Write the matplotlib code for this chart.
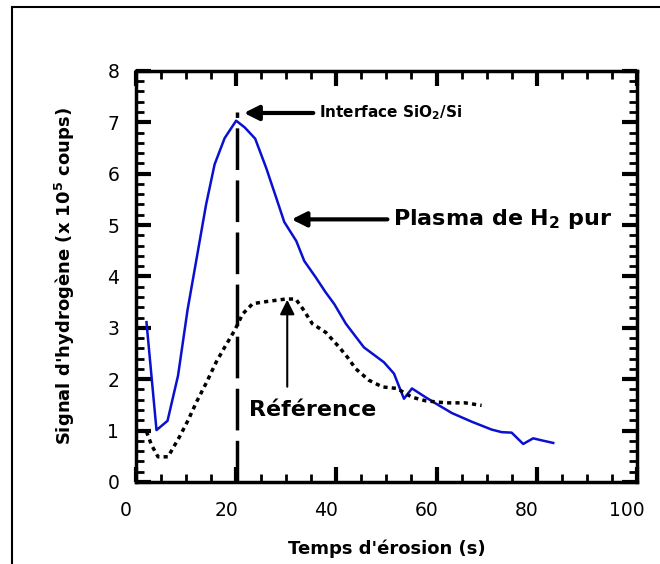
import matplotlib
matplotlib.use("Agg")
from matplotlib import pyplot as plt
from matplotlib.patches import Rectangle
from matplotlib.ticker import MultipleLocator
from matplotlib.transforms import ScaledTranslation

# Plasma de H2 pur (blue)
t_h2 = [2.1, 4.1, 6.3, 8.4, 10.3, 12.2, 14.0, 15.7, 17.7, 20.0, 21.7, 23.8, 26.0,
        28.0, 29.6, 32.0, 33.6, 35.9, 37.8, 39.6, 41.9, 45.5, 49.5, 51.5, 53.5,
        55.1, 57.8, 59.8, 63.1, 67.1, 71.0, 73.0, 75.0, 77.3, 79.3, 81.0, 83.3]
s_h2 = [3.11, 1.01, 1.19, 2.07, 3.35, 4.40, 5.40, 6.18, 6.69, 7.03, 6.90, 6.68, 6.11,
        5.53, 5.06, 4.69, 4.30, 3.98, 3.70, 3.46, 3.08, 2.62, 2.33, 2.11, 1.62,
        1.82, 1.65, 1.53, 1.34, 1.17, 1.02, 0.97, 0.96, 0.74, 0.85, 0.81, 0.76]

# Reference (black dotted)
t_ref = [2.1, 3.1, 4.4, 6.4, 8.7, 10.4, 12.1, 14.1, 16.0, 17.7, 19.7, 21.3, 23.3,
         26.0, 29.9, 31.9, 33.3, 35.2, 37.9, 40.6, 42.2, 43.9, 46.5, 49.2, 52.1,
         55.1, 57.8, 61.8, 65.7, 69.0]
s_ref = [0.98, 0.72, 0.49, 0.49, 0.88, 1.20, 1.56, 1.94, 2.33, 2.62, 2.95, 3.27, 3.47,
         3.51, 3.56, 3.56, 3.37, 3.08, 2.91, 2.62, 2.43, 2.20, 1.98, 1.85, 1.82,
         1.65, 1.58, 1.54, 1.54, 1.49]

t_interface = 20.1

fig = plt.figure(figsize=(6.6, 5.64), dpi=100)
ax = fig.add_axes([0.206, 0.1454, 0.759, 0.729])

# outer frame (only left and top edges are visible)
fig.patches.append(Rectangle((12 / 660, -0.2), 1.2, 0.2 + (1 - 7 / 564),
                             transform=fig.transFigure, fill=False,
                             edgecolor="black", linewidth=1.5))

ax.plot(t_h2, s_h2, color="#0a10d0", linewidth=1.8)
ax.plot(t_ref, s_ref, color="black", linewidth=2.5, linestyle=(0, (1.2, 1.2)))
ax.plot([t_interface, t_interface], [0, 7.2], color="black", linewidth=2.5,
        linestyle=(0, (12, 3)))

ax.set_xlim(0, 100)
ax.set_ylim(0, 8)
ax.xaxis.set_major_locator(MultipleLocator(20))
ax.xaxis.set_minor_locator(MultipleLocator(5))
ax.yaxis.set_major_locator(MultipleLocator(1))
ax.yaxis.set_minor_locator(MultipleLocator(0.2))
ax.tick_params(which="both", direction="in", top=True, right=True, labelsize=13.5)
ax.tick_params(which="major", length=11, width=3)
ax.tick_params(which="minor", length=6, width=2)
ax.tick_params(axis="y", which="major", pad=12)
ax.tick_params(axis="x", which="major", pad=14)
for sp in ax.spines.values():
    sp.set_linewidth(2.5)
for lab in ax.get_xticklabels():
    lab.set_transform(lab.get_transform() + ScaledTranslation(-0.1, 0, fig.dpi_scale_trans))

ax.set_xlabel("Temps d'érosion (s)", fontsize=13, fontweight="bold", labelpad=14)
ax.set_ylabel("Signal d'hydrogène (x 10$^{\\mathbf{5}}$ coups)", fontsize=13,
              fontweight="bold", labelpad=22)

arrow = dict(arrowstyle="-|>", color="black", linewidth=3, mutation_scale=22)
ax.annotate("Interface SiO$_{\\mathbf{2}}$/Si", xy=(21.0, 7.18), xytext=(36.5, 7.18),
            fontsize=11, fontweight="bold", va="center", arrowprops=arrow)
ax.annotate("Plasma de H$_{\\mathbf{2}}$ pur", xy=(30.5, 5.11), xytext=(51.3, 5.11),
            fontsize=16, fontweight="bold", va="center", arrowprops=arrow)
ax.annotate("", xy=(30.2, 3.6), xytext=(30.2, 1.8),
            arrowprops=dict(arrowstyle="-|>", color="black", linewidth=1.5,
                            mutation_scale=22))
ax.text(22.5, 1.4, "Référence", fontsize=16, fontweight="bold", va="center")

plt.savefig("out.png", dpi=100)
